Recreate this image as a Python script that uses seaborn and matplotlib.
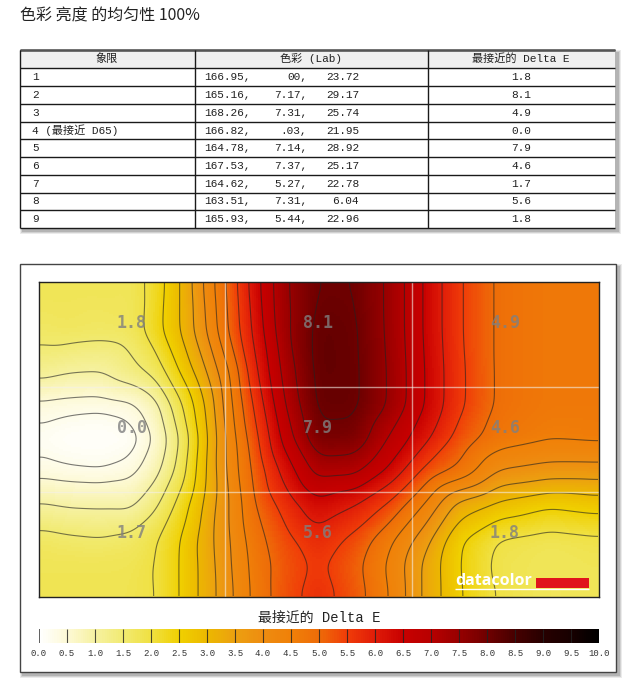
import matplotlib
matplotlib.use('Agg')
import matplotlib.pyplot as plt
import matplotlib.tri as mtri
from matplotlib.colors import LinearSegmentedColormap
from matplotlib.patches import Rectangle
import numpy as np
import seaborn as sns

sns.set_theme(style='white')
CJK = ['Noto Sans CJK SC', 'DejaVu Sans']
MONO = ['Liberation Mono', 'Noto Sans CJK SC']

# table values
title = '色彩 亮度 的均匀性 100%'
headers = ['象限', '色彩 (Lab)', '最接近的 Delta E']
quadrants = ['1', '2', '3', '4 (最接近 D65)', '5', '6', '7', '8', '9']
lab_l = ['166.95,', '165.16,', '168.26,', '166.82,', '164.78,', '167.53,', '164.62,', '163.51,', '165.93,']
lab_a = ['00,', '7.17,', '7.31,', '.03,', '7.14,', '7.37,', '5.27,', '7.31,', '5.44,']
lab_b = ['23.72', '29.17', '25.74', '21.95', '28.92', '25.17', '22.78', '6.04', '22.96']
delta_e = [1.8, 8.1, 4.9, 0.0, 7.9, 4.6, 1.7, 5.6, 1.8]

sample_x = [0, 31, 61, 91, 116, 141, 166, 191, 216, 246, 279, 316, 351, 386, 421, 461, 511, 560]
sample_y = [0, 48, 88, 123, 156, 188, 223, 258, 283, 315]
surface = [
    [1.80, 1.80, 1.80, 1.75, 2.20, 3.00, 4.10, 5.20, 6.30, 7.45, 8.02, 8.00, 7.40, 6.45, 5.55, 4.90, 4.70, 4.70],
    [1.65, 1.70, 1.65, 1.70, 2.30, 3.00, 3.95, 5.10, 6.15, 7.40, 8.15, 8.08, 7.40, 6.45, 5.55, 4.90, 4.70, 4.70],
    [1.20, 1.05, 1.02, 1.35, 1.70, 2.55, 3.45, 4.55, 5.90, 7.20, 8.15, 8.10, 7.45, 6.50, 5.60, 4.90, 4.70, 4.70],
    [0.40, 0.33, 0.30, 0.38, 0.80, 1.90, 3.00, 4.40, 5.60, 7.00, 8.10, 8.10, 7.45, 6.50, 5.60, 4.90, 4.70, 4.70],
    [0.15, 0.05, 0.03, 0.10, 0.52, 1.53, 2.85, 4.25, 5.35, 6.70, 7.90, 7.85, 6.95, 6.15, 5.30, 4.75, 4.55, 4.60],
    [0.35, 0.28, 0.25, 0.35, 0.80, 1.72, 2.95, 4.20, 5.15, 6.20, 7.20, 7.15, 6.40, 5.40, 4.90, 4.00, 3.80, 3.80],
    [1.05, 0.95, 0.93, 0.90, 1.40, 2.20, 3.10, 4.05, 5.00, 5.70, 6.35, 6.00, 5.40, 4.45, 3.30, 2.85, 2.55, 2.70],
    [1.70, 1.60, 1.55, 1.65, 1.95, 2.50, 3.25, 4.00, 4.80, 5.35, 5.80, 5.35, 4.60, 3.70, 2.55, 1.95, 1.80, 1.90],
    [1.80, 1.80, 1.80, 1.80, 2.00, 2.52, 3.20, 3.97, 4.70, 5.25, 5.60, 5.15, 4.40, 3.40, 2.50, 1.85, 1.75, 1.80],
    [1.80, 1.80, 1.80, 1.85, 1.97, 2.52, 3.20, 3.90, 4.65, 5.30, 5.75, 5.25, 4.50, 3.40, 2.55, 1.95, 1.75, 1.75],
]

# colour bar stops, one per 0.5
bar_colors = ['#ffffff', '#fdf9d4', '#f6f1a0', '#f1ea70', '#f0e040', '#f0d000', '#ecb800',
              '#eca010', '#ee8c10', '#f08008', '#ee6c08', '#f03c08', '#e01c08', '#c80000',
              '#b80000', '#980000', '#700000', '#480000', '#280000', '#180000', '#000000']
cmap = LinearSegmentedColormap.from_list('delta_e', bar_colors, N=256)
bar_ticks = np.arange(0, 10.01, 0.5)
contour_levels = [0.25] + list(np.arange(0.5, 10, 0.5))

fig = plt.figure(figsize=(6.4, 6.97), dpi=100, facecolor='white')

# page layer in pixel coordinates, for the table and the frames
page = fig.add_axes([0, 0, 1, 1])
page.set_xlim(0, 640)
page.set_ylim(697, 0)
page.axis('off')

page.text(20, 15.5, title, fontsize=11.5, family=CJK, color='#222222', va='center')


def soft_shadow(x, y, w, h):
    # a few see-through boxes, so the shadow fades out
    for grow, alpha in [(3, 0.12), (2, 0.18), (1, 0.25)]:
        page.add_patch(Rectangle((x + 3 - grow, y + 3 - grow), w + 2 * grow, h + 2 * grow,
                                 fc='#606060', ec='none', alpha=alpha, zorder=1))


# table
row_lines = [50, 67.7, 85.7, 103.7, 121.7, 139.3, 157.3, 175, 192.7, 210.3, 228.3]
col_lines = [20, 195, 428, 615]
soft_shadow(20, 50, 595, 178.3)
page.add_patch(Rectangle((20, 50), 595, 178.3, fc='white', ec='none', zorder=2))
page.add_patch(Rectangle((20, 50), 595, 17.7, fc='#f0f0f0', ec='none', zorder=2))
page.hlines(row_lines, 20, 615, color='#1a1a1a', lw=1, zorder=3)
page.hlines(50, 20, 615, color='#555555', lw=1.8, zorder=3)
page.vlines(col_lines[:3], 50, 228.3, color='#1a1a1a', lw=1, zorder=3)

head_x = [107, 311, 521]
for hx, h in zip(head_x, headers):
    page.text(hx, 58.8, h, fontsize=8, family=MONO, ha='center', va='center', color='#222222', zorder=4)
for i in range(9):
    cy = (row_lines[i + 1] + row_lines[i + 2]) / 2
    page.text(32, cy, quadrants[i], fontsize=8, family=MONO, va='center', color='#222222', zorder=4)
    page.text(251, cy, lab_l[i], fontsize=8, family=MONO, ha='right', va='center', color='#222222', zorder=4)
    page.text(307, cy, lab_a[i], fontsize=8, family=MONO, ha='right', va='center', color='#222222', zorder=4)
    page.text(359, cy, lab_b[i], fontsize=8, family=MONO, ha='right', va='center', color='#222222', zorder=4)
    page.text(521, cy, f'{delta_e[i]:.1f}', fontsize=8, family=MONO, ha='center', va='center', color='#222222', zorder=4)

# frame around the map
soft_shadow(20, 264, 596, 408)
page.add_patch(Rectangle((20, 264), 596, 408, fc='white', ec='#444444', lw=1, zorder=2))
page.text(319, 618, '最接近的 Delta E', fontsize=10, family=MONO, ha='center', va='center', color='#222222', zorder=4)

# put the read surface on a screen sized mesh, then soften it
grid_x, grid_y = np.meshgrid(sample_x, sample_y)
tri = mtri.Triangulation(grid_x.ravel(), grid_y.ravel())
flat = mtri.LinearTriInterpolator(tri, np.array(surface).ravel())
mesh_x, mesh_y = np.meshgrid(np.arange(0, 560.5, 2), np.arange(0, 315.5, 2))
field = np.ma.filled(flat(mesh_x, mesh_y), np.nan)

kernel = np.ones(7) / 7
for axis in (0, 1):
    for _ in range(3):
        field = np.apply_along_axis(
            lambda v: np.convolve(np.pad(v, 3, mode='reflect'), kernel, mode='valid'), axis, field)

ax = fig.add_axes([39 / 640, 1 - 597 / 697, 560 / 640, 315 / 697])
cax = fig.add_axes([39 / 640, 1 - 643 / 697, 560 / 640, 14 / 697])
sns.heatmap(field, ax=ax, cmap=cmap, vmin=0, vmax=10, xticklabels=False, yticklabels=False,
            cbar_ax=cax, cbar_kws={'orientation': 'horizontal', 'ticks': bar_ticks})

cols = np.arange(field.shape[1]) + 0.5
rows = np.arange(field.shape[0]) + 0.5
ax.contour(cols, rows, field, levels=contour_levels, colors='#222222', linewidths=0.8, alpha=0.6)

to_x = field.shape[1] / 560
to_y = field.shape[0] / 315
for gx in [186.5, 373]:
    ax.axvline(gx * to_x, color='#f4f0e8', lw=1, alpha=0.6)
for gy in [105, 210]:
    ax.axhline(gy * to_y, color='#f4f0e8', lw=1, alpha=0.6)

label_x = [93, 279, 466]
label_y = [41, 146, 251]
for i, val in enumerate(delta_e):
    ax.text(label_x[i % 3] * to_x, label_y[i // 3] * to_y, f'{val:.1f}', fontsize=12, fontweight='bold',
            family='DejaVu Sans Mono', color='#808080', alpha=0.8, ha='center', va='center')

# datacolor mark
ax.text(416 * to_x, 299 * to_y, 'datacolor', fontsize=11.5, fontweight='bold', family='Open Sans',
        color='white', va='center')
ax.add_patch(Rectangle((497 * to_x, 296 * to_y), 53 * to_x, 10 * to_y, fc='#e0141c', ec='none'))
ax.hlines(307 * to_y, 416 * to_x, 550 * to_x, color='white', lw=1)

for side in ax.spines.values():
    side.set_visible(True)
    side.set_color('#222222')
    side.set_linewidth(1)

cb = ax.collections[0].colorbar
cb.outline.set_visible(False)
cax.tick_params(axis='x', length=0, pad=4)
cax.set_xticks(bar_ticks)
cax.set_xticklabels([f'{t:.1f}' for t in bar_ticks], fontsize=6.5, family='Liberation Mono', color='#333333')
# the ticks run across the whole bar
cax.vlines(bar_ticks[1:-1], *cax.get_ylim(), color='#222222', lw=0.8, alpha=0.8, zorder=5)
cax.vlines(bar_ticks[0], *cax.get_ylim(), color='#444444', lw=1.2, zorder=5)

fig.savefig('out.png', dpi=100)
